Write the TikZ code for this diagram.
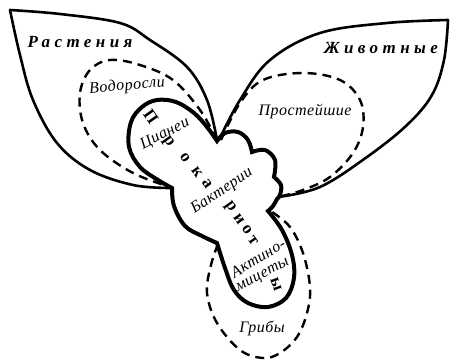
\documentclass[tikz,border=0pt]{standalone}
\usepackage{fontspec}
\setmainfont{Liberation Serif}
\newfontfamily\spacedfont[LetterSpace=26]{Liberation Serif}
\newfontfamily\lblfont[LetterSpace=3]{Liberation Serif}
\begin{document}
\begin{tikzpicture}[x=1pt,y=-1pt,
  leafline/.style={line width=2.6pt, line join=round, line cap=round},
  dashline/.style={line width=2.4pt, dash pattern=on 9pt off 6pt},
  blobline/.style={line width=4pt, line join=miter, miter limit=4},
  lbl/.style={font=\lblfont\itshape\fontsize{16}{16}\selectfont, inner sep=0pt},
  biglbl/.style={font=\spacedfont\bfseries\itshape\fontsize{17}{17}\selectfont, inner sep=0pt},
  pk/.style={font=\bfseries\fontsize{17}{17}\selectfont, rotate=-55, inner sep=0pt}]
\useasboundingbox (0,0) rectangle (450,361);
% plant leaf
\draw[leafline] plot[smooth, tension=0.6] coordinates {(10,10) (60,14) (120,23) (150,40) (187,67) (207,100) (217,140)};
\draw[leafline] plot[smooth, tension=0.6] coordinates {(10,10) (20,55) (33,100) (57,143) (90,170) (133,185) (170,188)};
% algae
\draw[dashline] plot[smooth, tension=0.6] coordinates {(217,140) (200,110) (173,80) (140,65) (110,60) (90,70) (80,93) (83,123) (100,150) (133,173) (170,187)};
% animal leaf
\draw[leafline] plot[smooth, tension=0.6] coordinates {(219,140) (240,100) (270,60) (320,33) (387,23) (448,20)};
\draw[leafline] plot[smooth, tension=0.6] coordinates {(448,20) (444,60) (432,95) (407,125) (367,157) (320,187) (278,197)};
% protozoa
\draw[dashline] plot[smooth, tension=0.6] coordinates {(221,140) (240,103) (263,80) (303,73) (340,80) (360,100) (363,127) (353,153) (330,177) (303,190) (278,197)};
% fungi
\draw[dashline] plot[smooth, tension=0.6] coordinates {(218,244) (211,265) (207,293) (217,323) (240,350) (263,358) (280,353) (297,337) (307,313) (310,287) (303,253) (290,227) (272,212)};
% prokaryotes
\draw[blobline] plot[smooth, tension=0.6] coordinates {(217,141) (225,133) (238,132) (248,140) (252,152)}
  -- plot[smooth, tension=0.6] coordinates {(252,152) (265,150) (275,160) (274,177)}
  -- plot[smooth, tension=0.6] coordinates {(274,177) (281,185) (280,195) (277,199)}
  -- plot[smooth, tension=0.6] coordinates {(277,199) (273,206) (268,211)}
  -- plot[smooth, tension=0.6] coordinates {(268,211) (282,230) (292,255) (294,278) (286,298) (268,307) (248,303) (234,290) (225,268) (217,243)}
  -- plot[smooth, tension=0.6] coordinates {(217,243) (202,236) (185,226) (174,206) (172,188)}
  -- plot[smooth, tension=0.6] coordinates {(172,188) (158,180) (140,167) (129,147) (131,122) (142,107) (157,100) (176,102) (194,113) (207,127) (217,141)} -- cycle;
% labels
\node[biglbl] (rast) at (80,42) {Растения};
\node[biglbl] (zhiv) at (381,48) {Животные};
\node[lbl, rotate=5] (vodo) at (127,86) {Водоросли};
\node[lbl] (prost) at (305,112) {Простейшие};
\node[lbl, rotate=27] (cian) at (165,134) {Цианеи};
\node[lbl, rotate=34] (bakt) at (222,191) {Бактерии};
\node[lbl, rotate=31] (akt) at (258,258) {Актино-};
\node[lbl, rotate=28] (mic) at (263,276) {мицеты};
\node[lbl] (grib) at (262,328) {Грибы};
% Прокариоты letters
\node[pk] (p1) at (151,117) {П};
\node[pk] (p2) at (168,142) {р};
\node[pk] (p3) at (185,158) {о};
\node[pk] (p4) at (197,172) {к};
\node[pk] (p5) at (207,184) {а};
\node[pk] (p6) at (230,207) {р};
\node[pk] (p7) at (239,219) {и};
\node[pk] (p8) at (247,230) {о};
\node[pk] (p9) at (253,241) {т};
\node[pk, rotate=-15] (p10) at (276,284) {ы};
\end{tikzpicture}
\end{document}
